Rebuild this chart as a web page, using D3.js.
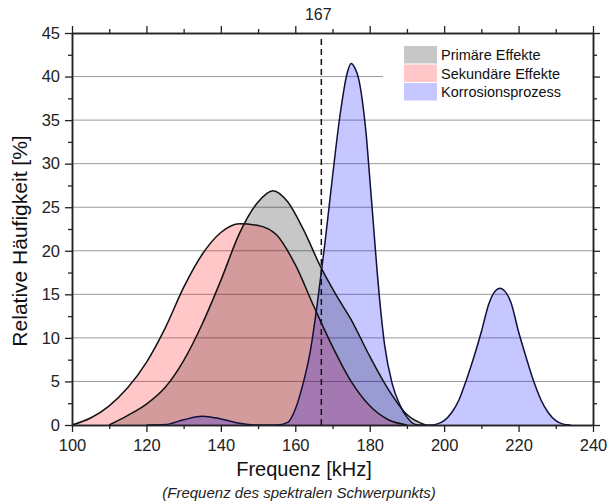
<!DOCTYPE html>
<html>
<head>
<meta charset="utf-8">
<script src="https://cdn.jsdelivr.net/npm/d3@7"></script>
<style>
  html, body { margin: 0; padding: 0; background: #fff; }
  svg { display: block; font-family: Arial, "Liberation Sans", sans-serif; }
</style>
</head>
<body>
<svg id="chart" width="608" height="504"></svg>
<script>
// ---- data ----
const seriesNames = ["Primäre Effekte", "Sekundäre Effekte", "Korrosionsprozess"];

const primaryFreq   = [110, 115, 120, 125, 130, 135, 140, 145, 150, 154, 158, 162, 167, 171, 175, 180, 185, 190, 195];
const primaryValues = [0, 1.1, 2.4, 4.3, 7.4, 11.6, 16.6, 22.0, 25.6, 26.9, 25.6, 22.6, 18.0, 14.9, 12.1, 7.9, 4.1, 1.2, 0];

const secondaryFreq   = [100, 105, 110, 115, 120, 125, 130, 135, 140, 145, 150, 155, 160, 165, 170, 175, 180, 185, 190];
const secondaryValues = [0, 0.8, 2.2, 4.3, 7.2, 11.1, 15.8, 19.6, 22.1, 23.1, 22.9, 21.8, 18.4, 13.6, 9.0, 5.0, 2.2, 0.6, 0];

const corrosionFreq   = [120, 125, 130, 135, 140, 145, 150, 155, 158, 160, 162, 164, 166, 168, 170, 172, 174, 175, 176, 177, 178, 179, 180, 181, 182, 184, 186, 188, 190, 192, 194, 196, 198, 200, 202, 204, 206, 208, 210, 212, 214, 215, 216, 218, 220, 222, 224, 226, 228, 230, 232, 234];
const corrosionValues = [0, 0.05, 0.6, 1.0, 0.7, 0.2, 0, 0, 0.3, 1.8, 4.6, 8.4, 14.2, 21.0, 28.5, 35.5, 40.5, 41.5, 41.0, 39.8, 37.3, 33.6, 28.4, 23.0, 17.6, 9.2, 4.8, 2.4, 0.9, 0.1, 0, 0, 0.1, 0.5, 1.4, 2.9, 5.2, 7.8, 10.7, 13.9, 15.5, 15.7, 15.5, 14.0, 10.7, 7.8, 5.1, 2.9, 1.4, 0.5, 0.1, 0];

const markerFreq = 167;
const markerLabel = "167";

const xMajorTicks = [100, 120, 140, 160, 180, 200, 220, 240];
const xMinorTicks = [110, 130, 150, 170, 190, 210, 230];
const yMajorTicks = [0, 5, 10, 15, 20, 25, 30, 35, 40, 45];
const yMinorTicks = [2.5, 7.5, 12.5, 17.5, 22.5, 27.5, 32.5, 37.5, 42.5];
const gridValues  = [5, 10, 15, 20, 25, 30, 35, 40];

const xTitle = "Frequenz [kHz]";
const xSubtitle = "(Frequenz des spektralen Schwerpunkts)";
const yTitle = "Relative Häufigkeit [%]";

// ---- styles ----
const fills = ["rgb(0,0,0)", "rgb(255,0,0)", "rgb(0,0,255)"];
const fillOpacity = 0.22;

// ---- layout ----
const plotLeft = 72, plotRight = 593, plotTop = 33, plotBottom = 425;
const svg = d3.select("#chart");

const x = d3.scaleLinear().domain([100, 240]).range([plotLeft, plotRight]);
const y = d3.scaleLinear().domain([0, 45]).range([plotBottom, plotTop]);

// gridlines
svg.append("g").selectAll("line").data(gridValues).join("line")
  .attr("x1", plotLeft).attr("x2", plotRight)
  .attr("y1", d => y(d)).attr("y2", d => y(d))
  .attr("stroke", "#9a9a9a").attr("stroke-width", 1);

// series
const series = [
  {freq: primaryFreq, vals: primaryValues},
  {freq: secondaryFreq, vals: secondaryValues},
  {freq: corrosionFreq, vals: corrosionValues}
];

const area = d3.area()
  .x(d => x(d[0])).y0(y(0)).y1(d => y(d[1]))
  .curve(d3.curveMonotoneX);
const line = d3.line()
  .x(d => x(d[0])).y(d => y(d[1]))
  .curve(d3.curveMonotoneX);

series.forEach((s, i) => {
  const pts = s.freq.map((f, j) => [f, s.vals[j]]);
  svg.append("path").datum(pts)
    .attr("d", area)
    .attr("fill", fills[i]).attr("fill-opacity", fillOpacity);
});
series.forEach((s, i) => {
  const pts = s.freq.map((f, j) => [f, s.vals[j]]);
  svg.append("path").datum(pts)
    .attr("d", line)
    .attr("fill", "none")
    .attr("stroke", i === 2 ? "#10103a" : "#111")
    .attr("stroke-width", 1.5);
});

// dashed marker line
svg.append("line")
  .attr("x1", x(markerFreq)).attr("x2", x(markerFreq))
  .attr("y1", plotBottom).attr("y2", plotTop + 6)
  .attr("stroke", "#111").attr("stroke-width", 1.5)
  .attr("stroke-dasharray", "6,4");

// legend
const legend = svg.append("g");
legend.append("rect")
  .attr("x", 383).attr("y", 36).attr("width", plotRight - 383 - 1).attr("height", 74)
  .attr("fill", "#fff");
seriesNames.forEach((name, i) => {
  const yy = 46 + i * 18.5;
  legend.append("rect")
    .attr("x", 404).attr("y", yy).attr("width", 33).attr("height", 17.5)
    .attr("fill", fills[i]).attr("fill-opacity", fillOpacity);
  legend.append("text")
    .attr("x", 441).attr("y", yy + 14)
    .attr("font-size", 14.5).attr("fill", "#111")
    .text(name);
});

// axes
function styleAxis(g) {
  g.select(".domain").attr("stroke", "#222").attr("stroke-width", 1.5);
  g.selectAll(".tick line").attr("stroke", "#222").attr("stroke-width", 1.3);
  g.selectAll(".tick text").attr("fill", "#222").attr("font-size", 16.5)
    .attr("font-family", "Arial, 'Liberation Sans', sans-serif");
}

svg.append("g").attr("transform", `translate(0,${plotBottom})`)
  .call(d3.axisBottom(x).tickValues(xMajorTicks).tickSize(7).tickPadding(7).tickSizeOuter(0).tickFormat(d3.format("d")))
  .call(styleAxis);
svg.append("g").attr("transform", `translate(0,${plotBottom})`)
  .call(d3.axisBottom(x).tickValues(xMinorTicks).tickSize(4).tickSizeOuter(0).tickFormat(""))
  .call(styleAxis);

svg.append("g").attr("transform", `translate(0,${plotTop})`)
  .call(d3.axisTop(x).tickValues(xMajorTicks).tickSize(7).tickSizeOuter(0).tickFormat(""))
  .call(styleAxis);
svg.append("g").attr("transform", `translate(0,${plotTop})`)
  .call(d3.axisTop(x).tickValues(xMinorTicks).tickSize(4).tickSizeOuter(0).tickFormat(""))
  .call(styleAxis);

svg.append("g").attr("transform", `translate(${plotLeft},0)`)
  .call(d3.axisLeft(y).tickValues(yMajorTicks).tickSize(7).tickPadding(5).tickSizeOuter(0).tickFormat(d3.format("d")))
  .call(styleAxis);
svg.append("g").attr("transform", `translate(${plotLeft},0)`)
  .call(d3.axisLeft(y).tickValues(yMinorTicks).tickSize(4).tickSizeOuter(0).tickFormat(""))
  .call(styleAxis);

svg.append("g").attr("transform", `translate(${plotRight},0)`)
  .call(d3.axisRight(y).tickValues(yMajorTicks).tickSize(7).tickSizeOuter(0).tickFormat(""))
  .call(styleAxis);
svg.append("g").attr("transform", `translate(${plotRight},0)`)
  .call(d3.axisRight(y).tickValues(yMinorTicks).tickSize(4).tickSizeOuter(0).tickFormat(""))
  .call(styleAxis);

// marker label on top axis
svg.append("text")
  .attr("x", x(markerFreq) - 3).attr("y", 20)
  .attr("text-anchor", "middle").attr("font-size", 16).attr("fill", "#222")
  .text(markerLabel);

// titles
svg.append("text")
  .attr("x", 304).attr("y", 476)
  .attr("text-anchor", "middle").attr("font-size", 20).attr("fill", "#111")
  .text(xTitle);
svg.append("text")
  .attr("x", 299).attr("y", 498)
  .attr("text-anchor", "middle").attr("font-size", 15).attr("font-style", "italic").attr("fill", "#222")
  .text(xSubtitle);
svg.append("text")
  .attr("transform", "translate(27,241) rotate(-90)")
  .attr("text-anchor", "middle").attr("font-size", 21).attr("fill", "#111")
  .text(yTitle);
</script>
</body>
</html>
